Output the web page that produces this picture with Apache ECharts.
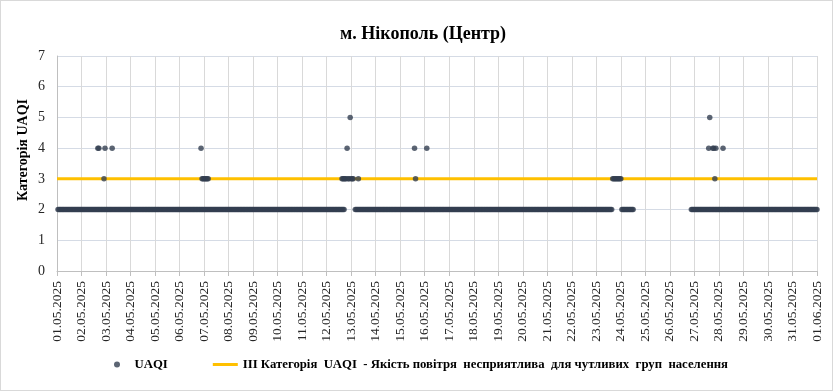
<!DOCTYPE html>
<html>
<head>
<meta charset="utf-8">
<script src="https://cdn.jsdelivr.net/npm/echarts@6/dist/echarts.min.js"></script>
<style>
html,body{margin:0;padding:0;background:#fff;}
#chart{width:831px;height:389px;border:1px solid #d9d9d9;}
</style>
</head>
<body>
<div id="chart"></div>
<script>
// Date tick labels (one per day, 01.05.2025 .. 01.06.2025)
const dateLabels = ["01.05.2025","02.05.2025","03.05.2025","04.05.2025","05.05.2025","06.05.2025","07.05.2025","08.05.2025","09.05.2025","10.05.2025","11.05.2025","12.05.2025","13.05.2025","14.05.2025","15.05.2025","16.05.2025","17.05.2025","18.05.2025","19.05.2025","20.05.2025","21.05.2025","22.05.2025","23.05.2025","24.05.2025","25.05.2025","26.05.2025","27.05.2025","28.05.2025","29.05.2025","30.05.2025","31.05.2025","01.06.2025"];

// Base hourly UAQI category per day: one character per hour (00..23), '-' = no reading
const uaqiHourly = [
  "-22222222222222222222222", // 01.05
  "222222222222222222222222", // 02.05
  "222222222222222222222222", // 03.05
  "222222222222222222222222", // 04.05
  "222222222222222222222222", // 05.05
  "222222222222222222222222", // 06.05
  "222222222222222222222222", // 07.05
  "222222222222222222222222", // 08.05
  "222222222222222222222222", // 09.05
  "222222222222222222222222", // 10.05
  "222222222222222222222222", // 11.05
  "222222222222222222------", // 12.05
  "----22222222222222222222", // 13.05
  "222222222222222222222222", // 14.05
  "222222222222222222222222", // 15.05
  "222222222222222222222222", // 16.05
  "222222222222222222222222", // 17.05
  "222222222222222222222222", // 18.05
  "222222222222222222222222", // 19.05
  "222222222222222222222222", // 20.05
  "222222222222222222222222", // 21.05
  "222222222222222222222222", // 22.05
  "2222222222222222--------", // 23.05
  "-222222222222-----------", // 24.05
  "------------------------", // 25.05
  "---------------------222", // 26.05
  "222222222222222222222222", // 27.05
  "222222222222222222222222", // 28.05
  "222222222222222222222222", // 29.05
  "222222222222222222222222", // 30.05
  "222222222222222222222222", // 31.05
  "2"                         // 01.06 00:00
];

// Elevated UAQI readings: [day index, hour, category]
const uaqiPeaks = [
  [1,16,4],[1,17,4],[1,22,3],[1,23,4],
  [2,6,4],
  [5,21,4],[5,22,3],[5,23,3],
  [6,0,3],[6,1,3],[6,2,3],[6,3,3],[6,4,3],
  [11,15,3],[11,16,3],[11,17,3],[11,18,3],[11,19,3],[11,20,4],[11,21,3],[11,22,3],[11,23,5],
  [12,0,3],[12,1,3],[12,2,3],[12,7,3],
  [14,14,4],[14,15,3],
  [15,2,4],
  [22,16,3],[22,17,3],[22,18,3],[22,19,3],[22,20,3],[22,21,3],[22,22,3],[22,23,3],
  [23,0,3],
  [26,14,4],[26,15,5],[26,18,4],[26,19,4],[26,20,3],[26,21,4],
  [27,4,4]
];

const thresholdValue = 3;
const seriesNames = ["UAQI", "III Категорія  UAQI  - Якість повітря  несприятлива  для чутливих  груп  населення"];
const yAxisTitle = 'Категорія UAQI';

const uaqiData = [];
uaqiHourly.forEach((day, d) => {
  for (let h = 0; h < day.length; h++) {
    const c = day[h];
    if (c !== '-') uaqiData.push([d * 24 + h, Number(c)]);
  }
});
uaqiPeaks.forEach(p => uaqiData.push([p[0] * 24 + p[1], p[2]]));

const totalHours = (dateLabels.length - 1) * 24;
const thresholdData = [[0, thresholdValue], [totalHours, thresholdValue]];

const serif = '"Liberation Serif", "Times New Roman", serif';
const lineIcon = 'path://M0,0L0.01,0L0.01,0.01L0,0.01Z M0,1.5L25,1.5L25,4.5L0,4.5Z M0,5.99L0.01,5.99L0.01,6L0,6Z';
const chart = echarts.init(document.getElementById('chart'));
chart.setOption({
  animation: false,
  title: {
    text: 'м. Нікополь (Центр)',
    left: 334,
    top: 19,
    textStyle: { fontFamily: serif, fontSize: 18, fontWeight: 'bold', color: '#000' }
  },
  graphic: [{
    type: 'text',
    x: 22,
    y: 149,
    rotation: Math.PI / 2,
    style: {
      text: yAxisTitle,
      fontFamily: serif,
      fontSize: 14,
      fontWeight: 'bold',
      fill: '#000',
      textAlign: 'center',
      textVerticalAlign: 'middle',
      verticalAlign: 'middle'
    }
  }],
  grid: { left: 56, right: 15, top: 55, bottom: 119 },
  legend: {
    bottom: 14,
    left: 108,
    itemGap: 45,
    itemWidth: 25,
    itemHeight: 6,
    textStyle: { fontFamily: serif, fontSize: 12.75, fontWeight: 'bold', color: '#000' },
    data: [
      { name: seriesNames[0], icon: 'circle' },
      { name: seriesNames[1], icon: lineIcon }
    ]
  },
  xAxis: {
    type: 'value',
    min: 0,
    max: totalHours,
    interval: 24,
    axisLine: { show: true, lineStyle: { color: '#bfbfbf' } },
    axisTick: { show: true, length: 5, lineStyle: { color: '#bfbfbf' } },
    splitLine: { show: true, lineStyle: { color: '#d9d9d9' } },
    axisLabel: {
      rotate: 90,
      margin: 10,
      fontFamily: serif,
      fontSize: 13.5,
      color: '#262626',
      formatter: v => dateLabels[Math.round(v / 24)]
    }
  },
  yAxis: {
    type: 'value',
    min: 0,
    max: 7,
    interval: 1,
    axisLine: { show: true, lineStyle: { color: '#bfbfbf' } },
    axisTick: { show: false },
    splitLine: { show: true, lineStyle: { color: '#d5dbe5' } },
    axisLabel: { fontFamily: serif, fontSize: 14, color: '#262626', margin: 12 }
  },
  series: [
    {
      name: seriesNames[0],
      type: 'scatter',
      data: uaqiData,
      symbol: 'circle',
      symbolSize: 5.5,
      itemStyle: { color: '#333f50' },
      z: 3
    },
    {
      name: seriesNames[1],
      type: 'line',
      data: thresholdData,
      showSymbol: false,
      symbol: 'none',
      lineStyle: { color: '#ffc000', width: 3 },
      itemStyle: { color: '#ffc000' },
      z: 2
    }
  ]
});
</script>
</body>
</html>
